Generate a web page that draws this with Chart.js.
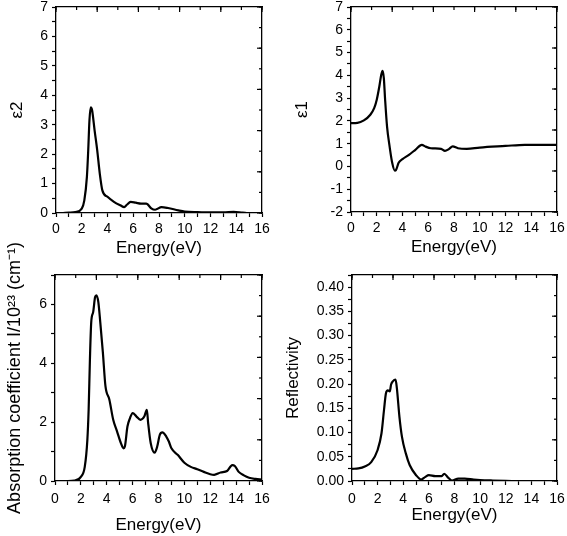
<!DOCTYPE html>
<html lang="en">
<head>
    <meta charset="UTF-8">
    <title>Optical properties</title>
    <script src="https://cdn.jsdelivr.net/npm/chart.js"></script>
    <style>
        body {
            margin: 0;
            background: #fff;
        }
        #wrap {
            position: relative;
            width: 567px;
            height: 536px;
            overflow: hidden;
        }
        canvas {
            position: absolute;
        }
    </style>
</head>
<body>
    <div id="wrap">
        <canvas id="eps2Chart" width="290" height="262" style="left:0;top:0"></canvas>
        <canvas id="eps1Chart" width="277" height="262" style="left:290px;top:0"></canvas>
        <canvas id="absChart" width="290" height="311" style="left:0;top:225px"></canvas>
        <canvas id="reflChart" width="287" height="276" style="left:280px;top:260px"></canvas>
    </div>

    <script>
        // energy axis ticks (shared)
        const energyTicks = [0, 2, 4, 6, 8, 10, 12, 14, 16];

        // epsilon 2 (imaginary part)
        const eps2Energy = [0.55, 1.0, 1.5, 2.0, 2.2, 2.4, 2.5, 2.6, 2.7, 2.8, 3.0, 3.2, 3.4, 3.6, 4.0, 4.5, 5.0, 5.3, 5.5, 5.8, 6.2, 6.6, 7.0, 7.1, 7.4, 7.7, 8.2, 8.7, 9.5, 10, 11, 12, 13, 13.8, 14.5, 14.8];
        const eps2Values = [0, 0.01, 0.03, 0.15, 0.43, 1.23, 2.1, 3.16, 3.59, 3.5, 2.8, 2.14, 1.34, 0.77, 0.55, 0.38, 0.26, 0.2, 0.28, 0.38, 0.35, 0.32, 0.32, 0.3, 0.16, 0.11, 0.2, 0.17, 0.09, 0.05, 0.03, 0.02, 0.02, 0.04, 0.01, 0];
        const eps2Ticks = [0, 1, 2, 3, 4, 5, 6, 7];

        // epsilon 1 (real part)
        const eps1Energy = [0, 0.5, 1.0, 1.5, 1.8, 2.0, 2.2, 2.35, 2.45, 2.55, 2.65, 2.8, 3.0, 3.2, 3.4, 3.5, 3.7, 4.0, 4.5, 5.0, 5.5, 5.8, 6.2, 7.0, 7.3, 7.6, 7.9, 8.3, 9.0, 10, 12, 13.5, 16];
        const eps1Values = [1.9, 1.91, 2.02, 2.27, 2.56, 2.93, 3.51, 4.03, 4.2, 3.88, 2.93, 1.75, 0.87, 0.16, -0.18, -0.15, 0.16, 0.32, 0.51, 0.73, 0.95, 0.87, 0.8, 0.77, 0.68, 0.76, 0.88, 0.8, 0.77, 0.83, 0.9, 0.95, 0.95];
        const eps1Ticks = [-2, -1, 0, 1, 2, 3, 4, 5, 6, 7];

        // absorption coefficient
        const absEnergy = [0, 1.0, 1.5, 2.0, 2.3, 2.5, 2.6, 2.7, 2.8, 2.95, 3.1, 3.2, 3.35, 3.5, 3.7, 3.9, 4.2, 4.5, 4.8, 5.1, 5.3, 5.4, 5.6, 5.8, 6.0, 6.3, 6.6, 6.9, 7.1, 7.2, 7.4, 7.7, 7.9, 8.1, 8.3, 8.6, 8.8, 9.0, 9.5, 10, 10.5, 11, 11.5, 12, 12.3, 12.8, 13.3, 13.7, 13.9, 14.2, 14.6, 15, 15.5, 16];
        const absValues = [0, 0, 0.01, 0.14, 0.48, 1.39, 2.42, 4.14, 5.39, 5.74, 6.25, 6.31, 6.08, 5.39, 4.37, 3.22, 2.77, 2.08, 1.68, 1.28, 1.11, 1.17, 1.85, 2.14, 2.31, 2.19, 2.08, 2.19, 2.42, 1.97, 1.28, 0.96, 1.17, 1.57, 1.65, 1.51, 1.34, 1.11, 0.88, 0.62, 0.48, 0.4, 0.31, 0.23, 0.21, 0.29, 0.34, 0.54, 0.51, 0.31, 0.19, 0.11, 0.07, 0.05];
        const absTicks = [0, 2, 4, 6];

        // reflectivity
        const reflEnergy = [0, 0.5, 1.0, 1.5, 2.0, 2.3, 2.5, 2.65, 2.8, 2.95, 3.05, 3.2, 3.4, 3.5, 3.7, 3.9, 4.2, 4.5, 5.0, 5.4, 5.7, 6.0, 6.5, 7.0, 7.2, 7.5, 7.8, 8.3, 8.8, 9.5, 10, 11, 12.5];
        const reflValues = [0.025, 0.026, 0.03, 0.039, 0.064, 0.098, 0.147, 0.181, 0.187, 0.185, 0.199, 0.206, 0.209, 0.192, 0.133, 0.091, 0.057, 0.033, 0.012, 0.003, 0.008, 0.012, 0.01, 0.01, 0.015, 0.007, 0.001, 0.005, 0.005, 0.003, 0.002, 0.001, 0];
        const reflTicks = [0, 0.05, 0.10, 0.15, 0.20, 0.25, 0.30, 0.35, 0.40];

        Chart.defaults.font.family = '"Liberation Sans", Arial, sans-serif';
        Chart.defaults.color = '#000';

        // major ticks plus a minor one half way between each pair
        function withMinors(major, max) {
            const step = major[1] - major[0];
            const out = [];
            for (let v = major[0]; v <= max + 1e-9; v += step / 2) out.push(+v.toFixed(6));
            return out;
        }
        const isMajor = (list, v) => list.some(m => Math.abs(m - v) < 1e-6);

        function stepPixels(scale, step) {
            const out = [];
            const n = Math.round((scale.max - scale.min) / step);
            for (let i = 0; i <= n; i++) out.push(scale.getPixelForValue(scale.min + i * step));
            return out;
        }

        // inward tick marks on the top and right sides
        const innerTicks = {
            id: 'innerTicks',
            afterDraw(chart) {
                const ctx = chart.ctx;
                const a = chart.chartArea;
                const xs = chart.scales.x;
                const ys = chart.scales.y;
                const yr = ys.max - ys.min;
                ctx.save();
                ctx.strokeStyle = '#000';
                ctx.lineWidth = 1.2;
                const seg = (x1, y1, x2, y2) => {
                    ctx.beginPath();
                    ctx.moveTo(x1, y1);
                    ctx.lineTo(x2, y2);
                    ctx.stroke();
                };
                stepPixels(xs, 3.2).forEach(p => seg(p, a.top, p, a.top + 5));
                stepPixels(xs, 1.6).forEach(p => seg(p, a.top, p, a.top + 3));
                stepPixels(ys, yr / 5).forEach(p => seg(a.right, p, a.right - 5, p));
                stepPixels(ys, yr / 10).forEach(p => seg(a.right, p, a.right - 3, p));
                ctx.restore();
            }
        };

        const axisLine = {display: true, color: '#000', width: 1.3};
        const outTicks = {display: true, drawOnChartArea: false, drawTicks: true, tickLength: 4, color: '#000', tickWidth: 1.2};

        function makeChart(id, energy, values, cfg) {
            const points = energy.map((e, i) => ({x: e, y: values[i]}));
            const fmt = cfg.yFormat || (v => v);
            return new Chart(document.getElementById(id), {
                type: 'line',
                data: {
                    datasets: [{
                        data: points,
                        borderColor: '#000',
                        borderWidth: 2.2,
                        pointRadius: 0,
                        fill: false,
                        cubicInterpolationMode: 'monotone'
                    }]
                },
                options: {
                    responsive: false,
                    animation: false,
                    events: [],
                    layout: {
                        padding: {top: cfg.padTop, right: cfg.padRight, left: 0, bottom: 0}
                    },
                    plugins: {
                        legend: {display: false},
                        tooltip: {enabled: false}
                    },
                    scales: {
                        x: {
                            type: 'linear',
                            min: 0,
                            max: 16,
                            grid: outTicks,
                            border: axisLine,
                            afterBuildTicks: s => { s.ticks = withMinors(energyTicks, 16).map(v => ({value: v})); },
                            afterFit: s => {
                                s.height = cfg.xHeight;
                                s.paddingLeft = 0;
                                s.paddingRight = 0;
                            },
                            ticks: {
                                font: {size: 14},
                                padding: cfg.xTickPad - 4,
                                maxRotation: 0,
                                autoSkip: false,
                                callback: v => isMajor(energyTicks, v) ? v : ''
                            },
                            title: {
                                display: true,
                                text: 'Energy(eV)',
                                font: {size: 17},
                                padding: {top: 0, bottom: cfg.xTitlePad}
                            }
                        },
                        x2: {
                            type: 'linear',
                            position: 'top',
                            min: 0,
                            max: 16,
                            grid: {display: false},
                            border: axisLine,
                            ticks: {display: false},
                            afterFit: s => { s.height = 0; s.paddingLeft = 0; s.paddingRight = 0; }
                        },
                        y: {
                            min: cfg.yMin,
                            max: cfg.yMax,
                            grid: outTicks,
                            border: axisLine,
                            afterBuildTicks: s => { s.ticks = withMinors(cfg.yTicks, cfg.yMax).map(v => ({value: v})); },
                            afterFit: s => {
                                s.width = cfg.yWidth;
                                s.paddingTop = 0;
                                s.paddingBottom = 0;
                            },
                            ticks: {
                                font: {size: 14},
                                padding: 4,
                                autoSkip: false,
                                callback: v => isMajor(cfg.yTicks, v) ? fmt(v) : ''
                            },
                            title: {
                                display: true,
                                text: cfg.yTitle,
                                font: {size: cfg.yTitleSize || 17},
                                padding: {top: cfg.yTitlePad, bottom: 0}
                            }
                        },
                        y2: {
                            position: 'right',
                            min: cfg.yMin,
                            max: cfg.yMax,
                            grid: {display: false},
                            border: axisLine,
                            ticks: {display: false},
                            afterFit: s => { s.width = 0; s.paddingTop = 0; s.paddingBottom = 0; }
                        }
                    }
                },
                plugins: [innerTicks]
            });
        }

        makeChart('eps2Chart', eps2Energy, eps2Values, {
            yMin: 0, yMax: 7, yTicks: eps2Ticks, yTitle: 'ε2',
            padTop: 7, padRight: 28, yWidth: 56, xHeight: 49, xTickPad: 8, xTitlePad: 3, yTitlePad: 7
        });

        makeChart('eps1Chart', eps1Energy, eps1Values, {
            yMin: -2, yMax: 7, yTicks: eps1Ticks, yTitle: 'ε1',
            padTop: 7, padRight: 10, yWidth: 61, xHeight: 50, xTickPad: 8, xTitlePad: 4, yTitlePad: 2
        });

        makeChart('absChart', absEnergy, absValues, {
            yMin: 0, yMax: 7, yTicks: absTicks, yTitle: 'Absorption coefficient I/10²³ (cm⁻¹)',
            yTitleSize: 18,
            padTop: 50, padRight: 28, yWidth: 55, xHeight: 55, xTickPad: 10, xTitlePad: 0, yTitlePad: 4
        });

        makeChart('reflChart', reflEnergy, reflValues, {
            yMin: 0, yMax: 0.425, yTicks: reflTicks, yTitle: 'Reflectivity',
            yFormat: v => v.toFixed(2),
            padTop: 15, padRight: 10, yWidth: 72, xHeight: 55, xTickPad: 10, xTitlePad: 10, yTitlePad: 3
        });
    </script>
</body>
</html>
